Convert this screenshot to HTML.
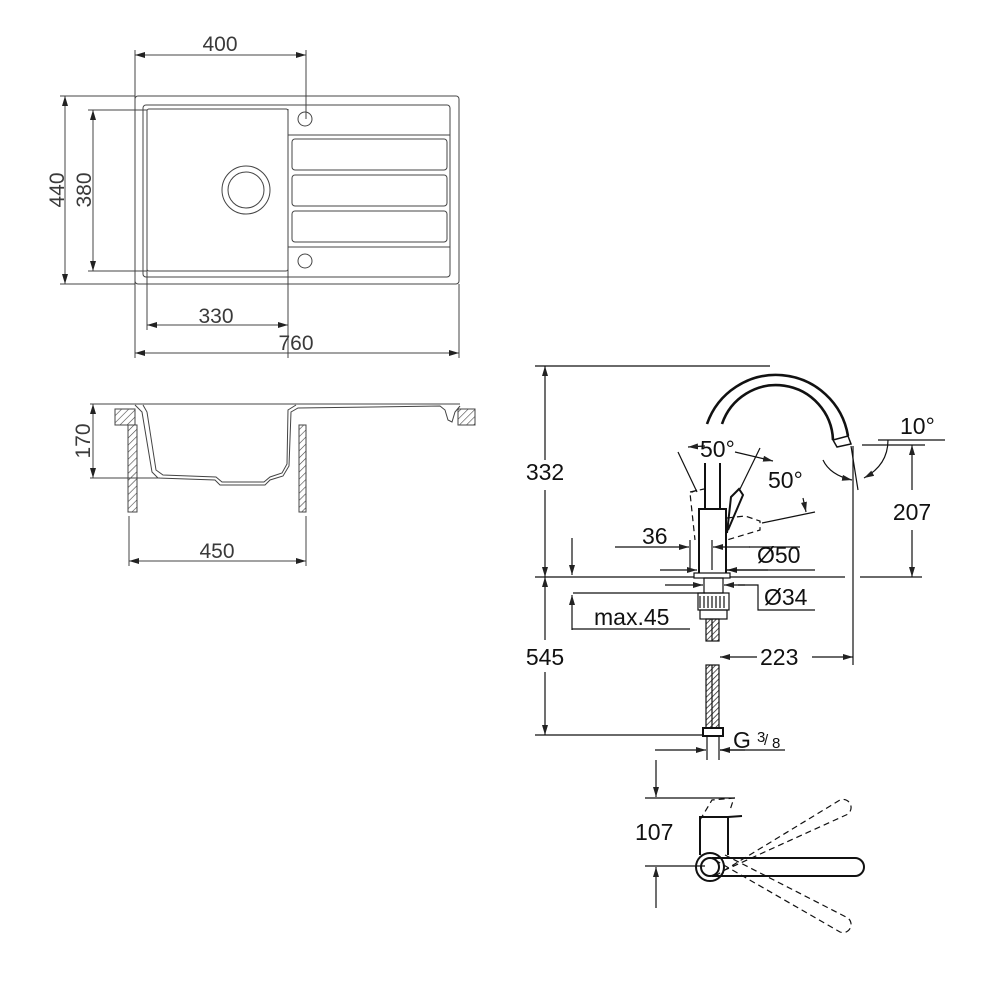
<!DOCTYPE html>
<html><head><meta charset="utf-8"><style>
html,body{margin:0;padding:0;background:#fff;width:1000px;height:1000px;overflow:hidden}
svg{display:block}
.s{font-family:"Liberation Sans",sans-serif;fill:#3a3a3a;font-size:20px}
.t{font-family:"Liberation Sans",sans-serif;fill:#111;font-size:23px}
</style></head><body>
<svg width="1000" height="1000" viewBox="0 0 1000 1000" xmlns="http://www.w3.org/2000/svg">
<defs>
<marker id="a" viewBox="0 0 10 6" refX="10" refY="3" markerWidth="10" markerHeight="6" orient="auto-start-reverse" markerUnits="userSpaceOnUse"><path d="M0,0 L10,3 L0,6z" fill="#222"/></marker>
<pattern id="h" width="5" height="5" patternUnits="userSpaceOnUse" patternTransform="rotate(45)"><line x1="0" y1="0" x2="0" y2="5" stroke="#444" stroke-width="1.2"/></pattern>
<pattern id="hs" width="4" height="4" patternUnits="userSpaceOnUse" patternTransform="rotate(45)"><line x1="0" y1="0" x2="0" y2="4" stroke="#222" stroke-width="1.5"/></pattern>
</defs>
<g stroke="#444" stroke-width="1" fill="none">
<rect x="135" y="96" width="324" height="188" rx="3"/>
<rect x="143" y="105" width="307" height="172" rx="3"/>
<rect x="147" y="109" width="141" height="162" rx="2"/>
<circle cx="246" cy="190" r="24"/><circle cx="246" cy="190" r="18"/>
<circle cx="305" cy="119" r="7"/><circle cx="305" cy="261" r="7"/>
<line x1="288" y1="135" x2="450" y2="135"/><line x1="288" y1="247" x2="450" y2="247"/>
<rect x="292" y="139" width="155" height="31" rx="3"/>
<rect x="292" y="175" width="155" height="31" rx="3"/>
<rect x="292" y="211" width="155" height="31" rx="3"/>
<line x1="288" y1="109" x2="288" y2="358"/>
<line x1="147" y1="250" x2="147" y2="330"/>
<line x1="135" y1="50" x2="135" y2="358"/>
<line x1="306" y1="50" x2="306" y2="119"/>
<line x1="459" y1="284" x2="459" y2="358"/>
<line x1="60" y1="96" x2="135" y2="96"/><line x1="60" y1="284" x2="135" y2="284"/>
<line x1="88" y1="110" x2="147" y2="110"/><line x1="88" y1="271" x2="147" y2="271"/>
<line x1="135" y1="55" x2="306" y2="55" marker-start="url(#a)" marker-end="url(#a)"/>
<line x1="147" y1="325" x2="288" y2="325" marker-start="url(#a)" marker-end="url(#a)"/>
<line x1="135" y1="353" x2="459" y2="353" marker-start="url(#a)" marker-end="url(#a)"/>
<line x1="65" y1="96" x2="65" y2="284" marker-start="url(#a)" marker-end="url(#a)"/>
<line x1="93" y1="110" x2="93" y2="271" marker-start="url(#a)" marker-end="url(#a)"/>
<line x1="90" y1="404" x2="460" y2="404"/>
<rect x="115" y="409" width="20" height="16" fill="url(#h)"/>
<rect x="458" y="409" width="17" height="16" fill="url(#h)"/>
<rect x="128" y="425" width="9" height="87" fill="url(#h)"/>
<rect x="299" y="425" width="7" height="87" fill="url(#h)"/>
<path d="M135,405 L142,412 L152,472 L158,478 L215,480 L220,485 L265,485 L270,480 L283,476 L289,466 L291,412 L298,408 L440,406 L445,410 L448,420 L452,422 L455,412 L460,406"/>
<path d="M143,405 L147,412 L156,470 L163,475 L216,477 L222,482 L264,482 L270,477 L282,473 L287,464 L288,410 L296,405"/>
<line x1="90" y1="478" x2="160" y2="478"/>
<line x1="93" y1="404" x2="93" y2="478" marker-start="url(#a)" marker-end="url(#a)"/>
<line x1="129" y1="516" x2="129" y2="566"/><line x1="306" y1="516" x2="306" y2="566"/>
<line x1="129" y1="561" x2="306" y2="561" marker-start="url(#a)" marker-end="url(#a)"/>
</g>
<g class="s">
<text x="220" y="51" text-anchor="middle" font-size="21">400</text>
<text x="216" y="323" text-anchor="middle" font-size="21">330</text>
<text x="296" y="350" text-anchor="middle" font-size="21">760</text>
<text x="217" y="558" text-anchor="middle" font-size="21">450</text>
<text transform="translate(64,190) rotate(-90)" text-anchor="middle" font-size="21">440</text>
<text transform="translate(91,190) rotate(-90)" text-anchor="middle" font-size="21">380</text>
<text transform="translate(90,441) rotate(-90)" text-anchor="middle" font-size="21">170</text>
</g>
<g stroke="#111" stroke-width="1.2" fill="none">
<line x1="535" y1="366" x2="770" y2="366"/>
<line x1="535" y1="577" x2="845" y2="577"/><line x1="860" y1="577" x2="922" y2="577"/>
<line x1="535" y1="735" x2="703" y2="735"/>
<line x1="545" y1="366" x2="545" y2="460" marker-start="url(#a)"/>
<line x1="545" y1="490" x2="545" y2="577" marker-end="url(#a)"/>
<line x1="545" y1="577" x2="545" y2="640" marker-start="url(#a)"/>
<line x1="545" y1="672" x2="545" y2="735" marker-end="url(#a)"/>
<path d="M707,424 A73,73 0 0 1 848,436" stroke-width="2.6"/>
<path d="M722,424 A57,57 0 0 1 833,440" stroke-width="2.6"/>
<path d="M833,440 L848,436 L851,444 L837,447 Z" stroke-width="1.5"/>
<line x1="851" y1="446" x2="858" y2="490"/>
<line x1="853" y1="446" x2="853" y2="665"/>
<path d="M823,460 Q830,475 852,480" marker-end="url(#a)"/>
<path d="M888,440 Q888,465 864,478" marker-end="url(#a)"/>
<line x1="878" y1="440" x2="945" y2="440"/>
<line x1="862" y1="445" x2="925" y2="445"/>
<line x1="912" y1="445" x2="912" y2="490" marker-start="url(#a)"/>
<line x1="912" y1="530" x2="912" y2="577" marker-end="url(#a)"/>
<line x1="705" y1="463" x2="705" y2="509" stroke-width="2"/>
<line x1="720" y1="463" x2="720" y2="509" stroke-width="2"/>
<rect x="699" y="509" width="27" height="65" stroke-width="2"/>
<path d="M727,533 L731,497 L739,489 L743,495 L728,530" stroke-width="2"/>
<g stroke-dasharray="6,4">
<path d="M697,490 L690,493 L695,540"/>
<path d="M690,492 L704,489"/>
<path d="M727,518 L745,516 L760,521 L760,530 L727,540"/>
</g>
<line x1="678" y1="452" x2="697" y2="492"/>
<line x1="760" y1="448" x2="740" y2="489"/>
<path d="M688,447 L705,446" marker-start="url(#a)"/>
<path d="M735,452 L773,461" marker-end="url(#a)"/>
<line x1="762" y1="523" x2="815" y2="512"/>
<line x1="803" y1="498" x2="806" y2="512" marker-end="url(#a)"/>
<line x1="615" y1="547" x2="689" y2="547" marker-end="url(#a)"/>
<line x1="690" y1="540" x2="690" y2="568"/>
<line x1="712" y1="540" x2="712" y2="570"/>
<line x1="750" y1="547" x2="713" y2="547" marker-end="url(#a)"/>
<line x1="749" y1="547" x2="800" y2="547"/>
<line x1="660" y1="570" x2="697" y2="570" marker-end="url(#a)"/>
<line x1="768" y1="570" x2="727" y2="570" marker-end="url(#a)"/>
<line x1="727" y1="570" x2="815" y2="570"/>
<line x1="665" y1="585" x2="703" y2="585" marker-end="url(#a)"/>
<line x1="745" y1="585" x2="724" y2="585" marker-end="url(#a)"/>
<path d="M738,585 L758,585 L758,610 L815,610"/>
<line x1="572" y1="538" x2="572" y2="575" marker-end="url(#a)"/>
<line x1="573" y1="593" x2="705" y2="593"/>
<path d="M572,630 L572,595" marker-end="url(#a)"/>
<line x1="572" y1="629" x2="690" y2="629"/>
<rect x="694" y="573" width="36" height="5" fill="#fff"/>
<rect x="704" y="578" width="19" height="15"/>
<rect x="698" y="593" width="31" height="17"/>
<rect x="700" y="610" width="27" height="9"/>
<path d="M700,596 V608 M704,596 V608 M708,596 V608 M712,596 V608 M716,596 V608 M720,596 V608 M724,596 V608" />
<rect x="706" y="619" width="13" height="22" fill="url(#hs)"/>
<rect x="706" y="665" width="13" height="63" fill="url(#hs)"/>
<line x1="712" y1="619" x2="712" y2="641"/><line x1="712" y1="665" x2="712" y2="728"/>
<rect x="703" y="728" width="20" height="8" stroke-width="2"/>
<line x1="707" y1="736" x2="707" y2="760"/><line x1="719" y1="736" x2="719" y2="760"/>
<line x1="655" y1="750" x2="706" y2="750" marker-end="url(#a)"/>
<line x1="745" y1="750" x2="720" y2="750" marker-end="url(#a)"/>
<line x1="720" y1="750" x2="785" y2="750"/>
<line x1="720" y1="657" x2="757" y2="657" marker-start="url(#a)"/>
<line x1="812" y1="657" x2="853" y2="657" marker-end="url(#a)"/>
<line x1="656" y1="760" x2="656" y2="797" marker-end="url(#a)"/>
<line x1="645" y1="798" x2="735" y2="798"/>
<line x1="645" y1="866" x2="705" y2="866"/>
<line x1="656" y1="908" x2="656" y2="867" marker-end="url(#a)"/>
<path d="M700,855 L700,817 L728,817 L728,855" stroke-width="2"/>
<path d="M728,817 L742,816" stroke-width="2"/>
<circle cx="710" cy="867" r="14" stroke-width="2"/>
<circle cx="710" cy="867" r="9" stroke-width="2"/>
<path d="M712,858 L855,858 A9,9 0 0 1 855,876 L712,876" stroke-width="2"/>
<g stroke-dasharray="6,4">
<path d="M700,820 L712,800 L734,798 L730,810 M715,876 L840,800 A7,7 0 0 1 846,815 L725,870"/>
<path d="M715,860 L840,932 A7,7 0 0 0 846,917 L725,855"/>
</g>
</g>
<g class="t">
<text x="545" y="480" text-anchor="middle">332</text>
<text x="545" y="665" text-anchor="middle">545</text>
<text x="700" y="457">50°</text>
<text x="768" y="488">50°</text>
<text x="900" y="434">10°</text>
<text x="912" y="520" text-anchor="middle">207</text>
<text x="642" y="544">36</text>
<text x="757" y="563">Ø50</text>
<text x="764" y="605">Ø34</text>
<text x="594" y="625">max.45</text>
<text x="760" y="665">223</text>
<text x="733" y="748">G</text>
<text x="757" y="742" style="font-size:15px">3</text>
<text x="764" y="745" style="font-size:15px">/</text>
<text x="772" y="748" style="font-size:15px">8</text>
<text x="635" y="840">107</text>
</g>
</svg>
</body></html>
